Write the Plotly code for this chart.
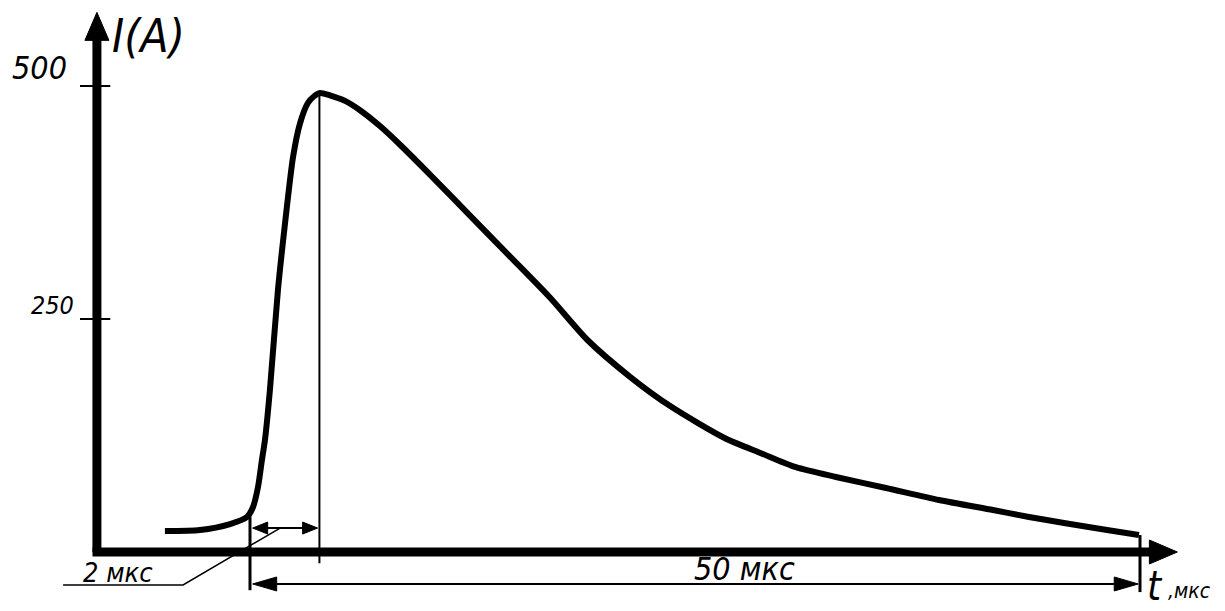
import plotly.graph_objects as go

# ---- data ----
t_us = [-4.78, -2.81, -1.12, -0.17, 0.17, 0.45, 0.67, 0.84, 1.12, 1.57, 1.97, 2.42,
        2.81, 3.26, 3.60, 3.93, 4.49, 5.34, 6.18, 7.30, 8.43, 10.11, 12.36, 14.61,
        16.85, 18.93, 21.35, 23.65, 26.69, 28.71, 30.67, 32.92, 35.73, 38.71, 41.74,
        43.76, 45.73, 48.15, 49.94]
current_A = [22.5, 23.6, 30, 37.6, 48.3, 69.7, 98.7, 120, 174, 281, 353, 424,
             460, 482, 489, 492.5, 490, 484, 474, 457, 437, 405, 361, 317,
             273, 228, 188, 156, 122, 106, 91, 80.5, 68.7, 55.8, 45,
             37.6, 31.1, 23.6, 18.2]
y_ticks = [250, 500]
y_tick_labels = ["250", "500"]
t_start, t_peak, t_end = 0.0, 3.9, 50.0
rise_label = "2 мкс"
pulse_label = "50 мкс"

# ---- scale (pixels per unit) used for decorations ----
OFF = 8                      # page body margin
W, H = 1225 - OFF, 611 - OFF  # figure size that fits the window
PX_X = 17.8     # px per мкс
PX_Y = 0.932    # px per A
X0 = 250        # page pixel of t=0
Y0 = 552        # page pixel of I=0
x_lo = -(X0 - OFF) / PX_X
xr = [x_lo, x_lo + W / PX_X]
y_hi = (Y0 - OFF) / PX_Y
yr = [y_hi - H / PX_Y, y_hi]

AX_X = -8.6          # position of the current axis (in мкс)
FONT = "Liberation Sans Narrow, DejaVu Sans Condensed, DejaVu Sans, sans-serif"
INK = "black"

fig = go.Figure()


def seg(x, y, w):
    fig.add_trace(go.Scatter(x=x, y=y, mode="lines", line=dict(color=INK, width=w),
                             hoverinfo="skip", showlegend=False))


def head(tx, ty, d, length, half):
    # d: 'r','l','u'  ; length/half in pixels
    if d == "r":
        xs = [tx, tx - length / PX_X, tx - length / PX_X, tx]
        ys = [ty, ty + half / PX_Y, ty - half / PX_Y, ty]
    elif d == "l":
        xs = [tx, tx + length / PX_X, tx + length / PX_X, tx]
        ys = [ty, ty + half / PX_Y, ty - half / PX_Y, ty]
    else:
        xs = [tx, tx - half / PX_X, tx + half / PX_X, tx]
        ys = [ty, ty - length / PX_Y, ty - length / PX_Y, ty]
    fig.add_trace(go.Scatter(x=xs, y=ys, mode="lines", fill="toself", fillcolor=INK,
                             line=dict(color=INK, width=1), hoverinfo="skip",
                             showlegend=False))


# axes
seg([AX_X, AX_X], [0, 560], 9)
head(AX_X, 579, "u", 28, 12)
seg([AX_X - 0.25, 50.8], [0, 0], 9)
head(52.1, 0, "r", 28, 12)

# ticks
for v in y_ticks:
    seg([AX_X - 0.95, AX_X + 0.75], [v, v], 2)

# guide lines
seg([t_peak, t_peak], [current_A[15], -12], 2)
seg([t_start, t_start], [38, -41], 3)
seg([t_end, t_end], [current_A[-1], -43], 3)

# 2 мкс double arrow
y2 = 25.7
seg([t_start + 0.6, t_peak - 0.6], [y2, y2], 2)
head(t_start + 0.15, y2, "l", 15, 6)
head(t_peak - 0.1, y2, "r", 15, 6)

# 50 мкс double arrow
y50 = -34.3
seg([t_start + 1.0, t_end - 1.0], [y50, y50], 2)
head(t_start + 0.15, y50, "l", 24, 7)
head(t_end - 0.1, y50, "r", 24, 7)

# leader for "2 мкс"
seg([-10.5, -3.76, 1.69], [-35.4, -35.4, 25.7], 1.5)

# curve
fig.add_trace(go.Scatter(x=t_us, y=current_A, mode="lines",
                         line=dict(color=INK, width=6, shape="spline", smoothing=0.7),
                         hoverinfo="skip", showlegend=False))


def txt(x, y, s, size, anchor="center"):
    fig.add_annotation(x=x, y=y, text=s, showarrow=False, xref="x", yref="y",
                       font=dict(family=FONT, size=size, color=INK, style="italic"),
                       xanchor=anchor, yanchor="middle")


txt(-5.7, 554, "I(A)", 46)
txt(-11.8, 519, y_tick_labels[1], 32)
txt(-11.1, 264, y_tick_labels[0], 25)
txt(-7.4, -21.5, rise_label, 27)
txt(27.8, -18.5, pulse_label, 32)
txt(50.85, -36, "t", 40)
txt(51.45, -42, ",мкс", 21, "left")

fig.update_layout(
    width=W, height=H, margin=dict(l=0, r=0, t=0, b=0),
    paper_bgcolor="white", plot_bgcolor="white",
    xaxis=dict(range=xr, visible=False, fixedrange=True),
    yaxis=dict(range=yr, visible=False, fixedrange=True),
    showlegend=False,
)
fig.write_html("out.html")
